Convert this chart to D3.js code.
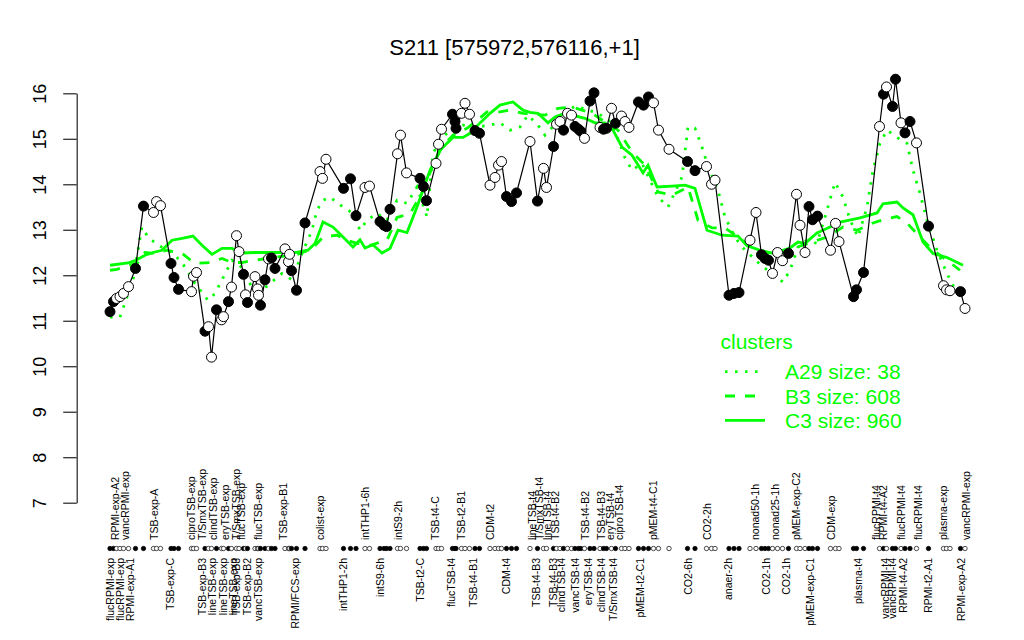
<!DOCTYPE html>
<html><head><meta charset="utf-8">
<script src="https://cdn.jsdelivr.net/npm/d3@7"></script>
<style>body{margin:0;background:#fff} text{font-family:"Liberation Sans",Arial,Helvetica,sans-serif}</style>
</head><body><svg id="c" width="1024" height="640"></svg>
<script>
const title = "S211 [575972,576116,+1]";
const yTicks = [7,8,9,10,11,12,13,14,15,16];

// sample positions (ordering slots), expression values, filled marker flag
const pointPos = [0,0.7,1.3,2,2.7,3.7,5.1,6.7,8.7,9.3,10.1,12.2,12.8,13.7,16.3,16.7,17.3,19,19.7,20.3,
21.3,22.3,22.7,23.7,24.3,25.3,25.8,26.7,27.1,27.5,29,29.5,29.7,30.1,31,31.7,32.3,33,35,35.7,
35.9,36.3,37.3,39,42,42.5,43.2,46.7,48.1,49.2,51,51.9,54,54.8,55.3,56,57.5,58.1,59.3,62,
62.7,63.3,65.2,65.7,66.3,68.5,69,69.2,70.3,71,71.9,73,73.9,76,77,77.7,78.3,79.3,80.3,81.3,
84,85.5,86.7,87.3,88.7,89.3,90,90.7,91.5,92.3,93,93.7,94.2,94.9,96,96.8,98,98.7,99.3,100.3,
101.1,102.3,103,103.8,105.7,106.7,107.7,108.7,109.7,111.8,115.5,117,119.3,120.3,121,123.8,124.8,125.8,128,129.2,
130.3,131,131.7,132.5,133.5,134.5,135.7,137.3,138,139,139.8,140.5,141.5,144.1,145.1,145.8,148.7,149.3,150.7,153.9,
154.7,155.3,156.5,157.1,158.2,159,160,161.3,163.7,166.7,167.3,168,170.1,171];
const pointValues = [11.20,11.42,11.49,11.53,11.60,11.75,12.15,13.52,13.38,13.62,13.53,12.26,11.95,11.69,11.64,11.98,12.06,10.77,10.87,10.20,
11.24,11.02,11.09,11.42,11.74,12.87,12.52,12.02,11.57,11.40,11.97,11.70,11.56,11.34,11.90,12.36,12.38,12.15,12.58,12.30,
12.46,12.10,11.67,13.15,14.28,14.13,14.55,13.91,14.12,13.31,13.93,13.96,13.18,13.10,13.07,13.45,14.67,15.08,14.25,14.13,
13.95,13.64,14.46,14.88,15.21,15.54,15.38,15.23,15.56,15.78,15.54,15.18,15.12,13.98,14.15,14.42,14.50,13.73,13.62,13.81,
14.94,13.63,14.35,13.93,14.83,15.32,15.38,15.19,15.56,15.52,15.27,15.21,15.16,15.01,15.83,16.01,15.25,15.21,15.23,15.67,
15.34,15.50,15.38,15.25,15.81,15.74,15.92,15.79,15.19,14.77,14.50,14.30,14.39,14.00,14.09,11.56,11.60,11.62,12.77,13.38,
12.45,12.37,12.33,12.04,12.50,12.32,12.48,13.78,13.10,12.50,13.51,13.22,13.30,12.55,13.14,12.74,11.53,11.68,12.06,15.27,
15.98,16.14,15.71,16.31,15.35,15.13,15.38,14.91,13.08,11.77,11.68,11.66,11.64,11.27];
const pointFilled = [1,1,0,0,0,0,1,1,0,0,0,1,1,1,0,0,0,1,0,0,
1,0,0,1,0,0,0,1,0,1,0,0,0,1,1,0,1,1,0,0,
0,1,1,1,0,0,0,1,1,1,0,0,1,1,1,1,0,0,0,1,
1,1,0,0,0,1,1,1,0,0,0,1,1,0,0,0,0,1,1,1,
0,1,0,0,1,0,0,1,0,0,1,1,1,0,1,1,0,1,1,0,
1,0,0,0,1,1,1,0,0,0,1,1,0,0,0,1,1,1,0,0,
1,1,1,0,0,0,1,0,0,0,1,1,1,0,0,0,1,1,1,0,
1,0,1,1,0,1,1,0,1,0,0,0,1,0];

const topLabels = ["RPMI-exp-A2","vancRPMI-exp","TSB-exp-A","ciproTSB-exp","T/SmxTSB-exp","clindTSB-exp","eryTSB-exp","T/SmxTSB-exp","flucTSB-exp","flucTSB-exp",
"TSB-exp-B1","colist-exp","intTHP1-6h","intS9-2h","TSB-t4-C","TSB-t2-B1","CDM-t2","lineTSB-t4","T/SmxTSB-t4","lineTSB-t4",
"TSB-t4-B2","TSB-t4-B2","TSB-t4-B3","eryTSB-t4","ciproTSB-t4","pMEM-t4-C1","CO2-2h","nonad50-1h","nonad25-1h","pMEM-exp-C2",
"CDM-exp","flucRPMI-t4","RPMI-t4-A2","flucRPMI-t4","flucRPMI-t4","plasma-exp","vancRPMI-exp"];
const topLabelPos = [1.1,3.1,8.9,16.2,18.5,20.7,23,25.3,26.3,29.7,
34.7,42,51,57.7,65,70.3,76,84.4,85.9,87.4,
89.1,95,98.2,100,101.9,108.7,119.5,129,133,137.3,
144.3,153.3,154.7,158.3,161.7,166.7,171.3];
const bottomLabels = ["flucRPMI-exp","flucRPMI-exp","RPMI-exp-A1","TSB-exp-C","TSB-exp-B3","lineTSB-exp","lineTSB-exp","lineTSB-exp","TSB-exp-B3","TSB-exp-B2",
"vancTSB-exp","RPMI/FCS-exp","intTHP1-2h","intS9-6h","TSB-t2-C","flucTSB-t4","TSB-t4-B1","CDM-t4","TSB-t4-B3","TSB-t4-B3",
"clindTSB-t4","vancTSB-t4","eryTSB-t4","clindTSB-t4","T/SmxTSB-t4","pMEM-t2-C1","CO2-6h","anaer-2h","CO2-1h","CO2-1h",
"pMEM-exp-C1","plasma-t4","vancRPMI-t4","vancRPMI-t4","RPMI-t4-A2","RPMI-t2-A1","RPMI-exp-A2"];
const bottomLabelPos = [0,2,4,12,18.5,20.5,22.7,24.7,25.3,27.5,
29.7,37,46.7,54,62,68.3,72.7,79.3,85.3,88.7,
90.3,93,95.7,98.3,100.7,106,115.7,123.7,131.3,135.3,
140,149.7,155,156.4,158.7,163.7,170.3];

// cluster profiles
const clusterTitle = "clusters";
const clusterNames = ["A29 size: 38","B3 size: 608","C3 size: 960"];
const a29Pos = [0,2,4.6,6.4,7.6,9.6,12.4,14.4,17,19.6,21,22.4,24.4,26.4,28.4,30.4,34.4,36.4,38.4,40.4,
41.4,42.6,44,45.4,46.6,48.6,50,51.4,53.4,55.4,57.4,59.4,61.4,63.4,64.6,66,68,70.6,73.4,76,
78,80,82,83.6,85.6,87,91,93,95.6,97.6,100.4,103,104.4,106.4,109.6,111.6,114.4,115.6,117,118.4,
119.6,121.6,123,125,126.4,130.6,132.6,134.6,136,137.6,139.4,141.4,143.4,145,146.6,148,149.6,151.4,152.6,154,
155.4,157.4,159.4,160.6,162,163.4,165.4,167.4,169.4];
const a29Values = [11.08,11.08,11.90,13.06,12.84,12.66,12.50,12.28,11.82,11.45,11.60,11.90,12.33,12.17,11.73,11.67,12.04,11.90,12.48,12.99,
13.43,13.65,13.72,13.60,13.50,13.36,12.99,13.21,13.36,13.21,13.65,13.58,13.94,13.28,14.68,14.97,15.19,15.30,15.26,15.30,
15.35,15.19,15.26,15.52,15.30,15.08,15.56,15.72,15.63,15.56,15.35,14.58,14.31,14.46,13.72,13.50,14.16,15.26,15.23,14.82,
14.39,13.87,13.28,12.84,12.62,12.18,12.04,11.85,12.11,12.62,12.77,12.70,13.43,14.04,13.72,13.22,12.84,13.50,14.31,14.90,
15.19,15.03,14.90,14.31,13.80,13.21,12.55,12.04,11.60];
const b3Pos = [0,1.4,5.6,7,9,11.4,14.4,17,20,22.4,24.4,26.4,29,33,37,40.4,42.6,45.4,47.4,49.4,
52,55.4,57.4,60,62.6,64.6,66.4,68.6,71.4,73.4,75.4,78,80,82.6,87,89.6,92.4,96.4,99,101.6,
104.4,107,109.6,112.4,115.6,117.6,120.4,123,125.6,128.6,131.4,134,137.4,140.4,143.4,146.6,149.4,152.6,154.6,157.4,
159.4,162,164.6,167.4,170];
const b3Values = [12.11,12.13,12.28,12.50,12.48,12.55,12.48,12.26,12.28,12.37,12.28,12.28,12.33,12.40,12.44,12.58,12.84,12.88,12.77,12.70,
12.66,12.77,13.27,13.35,13.86,14.42,14.82,15.08,15.23,15.40,15.59,15.59,15.63,15.56,15.52,15.67,15.70,15.56,15.37,15.19,
14.71,14.42,13.83,13.76,13.94,13.21,13.04,13.04,12.84,12.60,12.48,12.48,12.62,12.73,12.84,13.06,12.99,13.15,13.22,13.29,
13.15,12.84,12.55,12.33,12.11];
const c3Pos = [0,3.6,5.2,7,8.6,10.4,12.4,14.4,16.6,18.4,20.4,22.4,24.4,26.4,29,33,37,39.6,41,42.6,
44.6,46.6,48.6,50,51,52.6,54.4,56,57.6,59.4,61.4,64,66,67.4,68.6,70.6,72,74,76,78,
80.6,82.6,84,85.6,87.6,89,91,95,97,99,100.6,102.4,104.4,106.6,107.6,109.4,112.4,115,117,119.4,
122.4,125.6,127.4,130,132.6,136,137.6,139,141.4,144,146,150,153.4,154.6,157.4,158.6,160.6,162.6,164.6,167.4,
170.6];
const c3Values = [12.22,12.27,12.33,12.44,12.50,12.55,12.77,12.81,12.86,12.66,12.46,12.59,12.59,12.49,12.50,12.50,12.50,12.55,12.70,13.17,
13.06,12.84,12.62,12.78,12.60,12.67,12.49,12.59,12.99,12.94,13.50,14.31,14.75,14.90,15.03,15.03,15.12,15.35,15.56,15.74,
15.81,15.63,15.58,15.56,15.35,15.48,15.56,15.45,15.35,15.35,15.19,14.82,14.64,14.25,14.42,13.94,13.96,13.98,13.91,12.99,
12.88,12.86,12.65,12.55,12.48,12.60,12.73,12.70,12.93,13.06,13.17,13.26,13.37,13.57,13.61,13.48,13.33,12.73,12.48,12.39,
12.22];

const svg = d3.select("#c");
const x = d3.scaleLinear().domain([0,171]).range([110,965]);
const y = d3.scaleLinear().domain([7,16]).range([502.7,93.3]);
const green = "#00ff00";

// title
svg.append("text").attr("x",514.5).attr("y",55).attr("text-anchor","middle")
  .attr("font-size",22).attr("fill","#000").text(title);

// y axis
const ax = svg.append("g").attr("transform","translate(76.7,0)")
  .call(d3.axisLeft(y).tickValues(yTicks).tickSize(13.5).tickSizeOuter(0).tickFormat(d3.format("d")));
ax.select(".domain").attr("stroke","#222").attr("stroke-width",1.2);
ax.selectAll(".tick line").attr("stroke","#222").attr("stroke-width",1.2);
ax.selectAll(".tick text").attr("transform","rotate(-90)").attr("x",0).attr("y",-31)
  .attr("dy",0).attr("text-anchor","middle").attr("font-size",18).attr("fill","#000")
  .attr("font-family","Liberation Sans, Arial, sans-serif");

// cluster lines
const clusters = [
  {pos:a29Pos, val:a29Values, dash:"2.5,7.5"},
  {pos:b3Pos, val:b3Values, dash:"10,10"},
  {pos:c3Pos, val:c3Values, dash:null}
];
const line = d3.line().x(d=>x(d[0])).y(d=>y(d[1]));
clusters.forEach(c=>{
  const pts = c.pos.map((p,i)=>[p,c.val[i]]);
  svg.append("path").attr("d",line(pts)).attr("fill","none").attr("stroke",green)
    .attr("stroke-width",2.8).attr("stroke-dasharray",c.dash).attr("stroke-linecap","butt");
});

// data line and points
const data = pointPos.map((p,i)=>({p, v:pointValues[i], f:pointFilled[i]}));
svg.append("path").attr("d",d3.line().x(d=>x(d.p)).y(d=>y(d.v))(data))
  .attr("fill","none").attr("stroke","#000").attr("stroke-width",1.2);
svg.append("g").selectAll("circle").data(data).join("circle")
  .attr("cx",d=>x(d.p)).attr("cy",d=>y(d.v)).attr("r",5)
  .attr("fill",d=>d.f?"#000":"#fff").attr("stroke","#000").attr("stroke-width",1);

// sample dot row
svg.append("g").selectAll("circle").data(data).join("circle")
  .attr("cx",d=>x(d.p)).attr("cy",548.5).attr("r",2.2)
  .attr("fill",d=>d.f?"#000":"#fff").attr("stroke","#000").attr("stroke-width",0.7);

// labels
svg.append("g").selectAll("text").data(topLabels).join("text")
  .attr("transform",(d,i)=>`translate(${x(topLabelPos[i])+3.6},540) rotate(-90)`)
  .attr("text-anchor","start").attr("font-size",10.5).attr("fill","#000").text(d=>d);
svg.append("g").selectAll("text").data(bottomLabels).join("text")
  .attr("transform",(d,i)=>`translate(${x(bottomLabelPos[i])+3.6},558) rotate(-90)`)
  .attr("text-anchor","end").attr("font-size",10.5).attr("fill","#000").text(d=>d);

// legend
const lg = svg.append("g");
lg.append("text").attr("x",720.5).attr("y",348.5).attr("font-size",21).attr("fill",green).text(clusterTitle);
clusterNames.forEach((n,i)=>{
  const yy = 371.7 + i*24.3;
  lg.append("line").attr("x1",725).attr("x2",765).attr("y1",yy).attr("y2",yy)
    .attr("stroke",green).attr("stroke-width",2.8).attr("stroke-dasharray",clusters[i].dash);
  lg.append("text").attr("x",785).attr("y",yy+7.5).attr("font-size",21).attr("fill",green).text(n);
});
</script></body></html>
